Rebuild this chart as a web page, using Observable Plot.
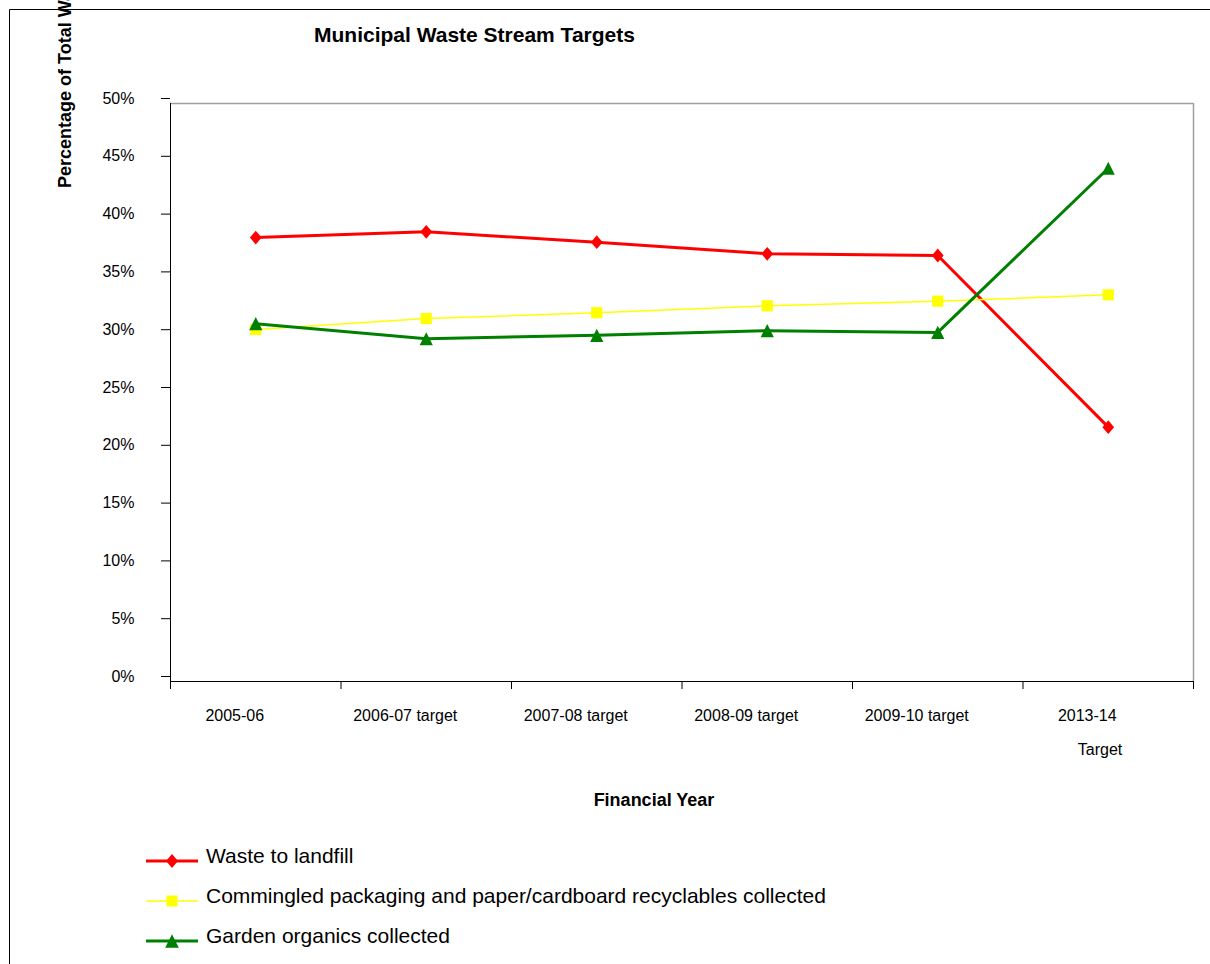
<!DOCTYPE html>
<html>
<head>
<meta charset="utf-8">
<script src="https://cdn.jsdelivr.net/npm/d3@7"></script>
<script src="https://cdn.jsdelivr.net/npm/@observablehq/plot@0.6"></script>
<style>
  html, body { margin: 0; padding: 0; background: #fff; overflow: hidden; }
  #wrap { position: relative; width: 1210px; height: 964px; }
  #wrap > svg { position: absolute; left: 0; top: 0; }
</style>
</head>
<body>
<div id="wrap"></div>
<script>
// ---------- data ----------
const categories = ["2005-06", "2006-07 target", "2007-08 target", "2008-09 target", "2009-10 target", "2013-14"];
const subLabels = ["", "", "", "", "", "Target"];
const seriesNames = [
  "Waste to landfill",
  "Commingled packaging and paper/cardboard recyclables collected",
  "Garden organics collected"
];
const wasteToLandfill = [38.4, 38.9, 38.0, 37.0, 36.85, 22.0];
const commingledRecyclables = [30.45, 31.4, 31.9, 32.5, 32.9, 33.45];
const gardenOrganics = [30.95, 29.65, 29.95, 30.35, 30.2, 44.4];
const yTicks = [0, 5, 10, 15, 20, 25, 30, 35, 40, 45, 50];
const titleText = "Municipal Waste Stream Targets";
const yLabelText = "Percentage of Total Waste";
const xLabelText = "Financial Year";

// ---------- styling ----------
const seriesValues = [wasteToLandfill, commingledRecyclables, gardenOrganics];
const seriesColors = ["#ff0000", "#ffff00", "#008000"];
const seriesWidths = [3, 1.5, 3];
const FONT = '"Liberation Sans", Arial, Helvetica, sans-serif';

// custom marker shapes (Excel-like)
const diamondSym = { draw(ctx, size) { const r = Math.sqrt(size / Math.PI), w = r * 0.85;
  ctx.moveTo(0, -r); ctx.lineTo(w, 0); ctx.lineTo(0, r); ctx.lineTo(-w, 0); ctx.closePath(); } };
const squareSym = { draw(ctx, size) { const r = Math.sqrt(size / Math.PI);
  ctx.moveTo(-r, -r); ctx.lineTo(r, -r); ctx.lineTo(r, r); ctx.lineTo(-r, r); ctx.closePath(); } };
const triangleSym = { draw(ctx, size) { const r = Math.sqrt(size / Math.PI);
  ctx.moveTo(0, -r); ctx.lineTo(r, r); ctx.lineTo(-r, r); ctx.closePath(); } };
const seriesSymbols = [diamondSym, squareSym, triangleSym];
const seriesR = [6.9, 5.6, 6.6];

// rows per series
const seriesRows = seriesValues.map((vals, s) =>
  vals.map((v, i) => ({ series: seriesNames[s], pos: i + 0.5, cat: categories[i], value: v })));
const subRows = subLabels.map((t, i) => ({ pos: i + 0.5, text: t })).filter(d => d.text);

const marks = [
  // plot-area borders
  Plot.ruleY([50], { stroke: "#a0a0a0", strokeWidth: 1.5 }),
  Plot.ruleX([categories.length], { stroke: "#a0a0a0", strokeWidth: 1.5 }),
  Plot.ruleX([0], { stroke: "#000" }),
  Plot.ruleY([0], { stroke: "#000" }),
  // y axis
  Plot.axisY({ ticks: yTicks, tickFormat: d => d + "%", tickSize: 9, tickPadding: 27, dy: -5, label: null }),
  // x axis: tick marks at category boundaries
  Plot.axisX({ ticks: d3.range(0, categories.length + 1), tickFormat: () => "", tickSize: 8, label: null }),
  // x axis: category labels at band centres
  Plot.axisX({ ticks: categories.map((c, i) => i + 0.5), tickFormat: d => categories[Math.round(d - 0.5)],
               tickSize: 0, tickPadding: 28, dx: -21, label: null }),
  Plot.text(subRows, { x: "pos", text: "text", frameAnchor: "bottom", textAnchor: "end", lineAnchor: "top",
                       dx: 14, dy: 62, fontSize: 16, fill: "#000" })
];
seriesRows.forEach((rows, s) => {
  marks.push(Plot.line(rows, { x: "pos", y: "value", stroke: seriesColors[s], strokeWidth: seriesWidths[s] }));
  marks.push(Plot.dot(rows, { x: "pos", y: "value", symbol: seriesSymbols[s], r: seriesR[s],
                              fill: seriesColors[s], stroke: "none" }));
});

const chart = Plot.plot({
  width: 1210,
  height: 964,
  marginLeft: 170,
  marginRight: 17,
  marginTop: 103,
  marginBottom: 283,
  style: { fontFamily: FONT, fontSize: "16px", color: "#000", background: "transparent", overflow: "visible" },
  x: { domain: [0, categories.length], axis: null },
  y: { domain: [0, 50], axis: null },
  marks
});

const wrap = document.getElementById("wrap");
wrap.appendChild(chart);

// ---------- annotations: frame, title, axis titles, legend ----------
const ann = d3.select(wrap).append("svg")
  .attr("width", 1210).attr("height", 964)
  .style("font-family", FONT)
  .style("pointer-events", "none");

ann.append("path").attr("d", "M9.5,964 V9.5 H1210").attr("fill", "none").attr("stroke", "#000").attr("stroke-width", 1);

ann.append("text").attr("x", 314).attr("y", 42)
  .attr("font-size", 21).attr("font-weight", "bold").attr("fill", "#000").text(titleText);

ann.append("text").attr("transform", "translate(71,188) rotate(-90)")
  .attr("font-size", 18).attr("font-weight", "bold").attr("fill", "#000").text(yLabelText);

ann.append("text").attr("x", 654).attr("y", 806).attr("text-anchor", "middle")
  .attr("font-size", 18).attr("font-weight", "bold").attr("fill", "#000").text(xLabelText);

const legendSymR = [7, 5.5, 6.8];
seriesNames.forEach((name, s) => {
  const y = 861 + 40 * s;
  const g = ann.append("g");
  g.append("line").attr("x1", 146).attr("x2", 198).attr("y1", y).attr("y2", y)
    .attr("stroke", seriesColors[s]).attr("stroke-width", seriesWidths[s]);
  g.append("path").attr("transform", `translate(172,${y})`)
    .attr("d", d3.symbol().type(seriesSymbols[s]).size(Math.PI * legendSymR[s] * legendSymR[s])())
    .attr("fill", seriesColors[s]);
  g.append("text").attr("x", 206).attr("y", y + 1.5).attr("font-size", 21).attr("fill", "#000").text(name);
});
</script>
</body>
</html>
